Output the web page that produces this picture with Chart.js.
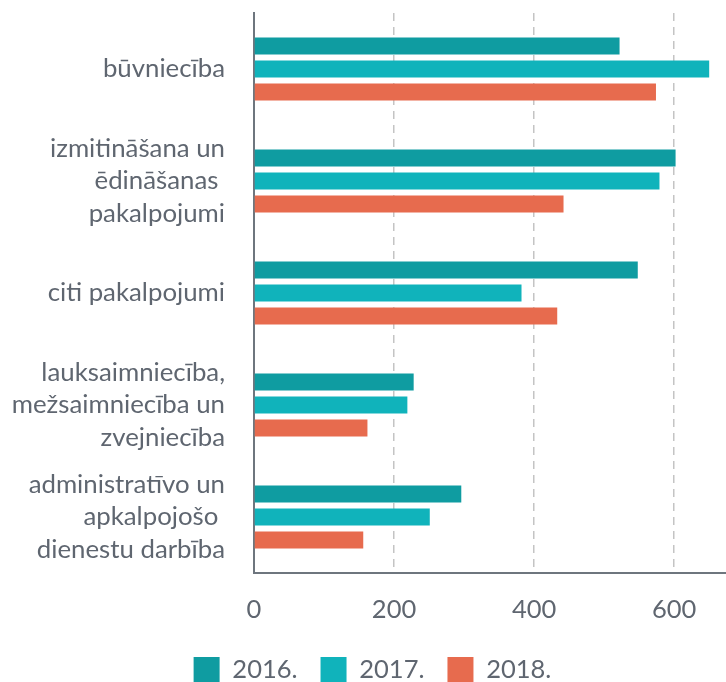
<!DOCTYPE html>
<html>
<head>
<meta charset="utf-8">
<script src="https://cdn.jsdelivr.net/npm/chart.js@4"></script>
<style>
  html, body { margin: 0; padding: 0; background: #fff; }
  #wrap { width: 726px; height: 682px; position: relative; }
</style>
</head>
<body>
<div id="wrap"><canvas id="myChart" width="726" height="682"></canvas></div>
<script>
// categories (multi-line labels as in the source)
const categories = [
  ['būvniecība'],
  ['izmitināšana un', 'ēdināšanas ', 'pakalpojumi'],
  ['citi pakalpojumi'],
  ['lauksaimniecība,', 'mežsaimniecība un', 'zvejniecība'],
  ['administratīvo un', 'apkalpojošo ', 'dienestu darbība']
]
const seriesNames = ['2016.', '2017.', '2018.']
const values2016 = [522, 602, 548, 228, 296]
const values2017 = [650, 579, 382, 219, 251]
const values2018 = [574, 442, 433, 162, 156]
const xTicks = [0, 200, 400, 600]

const colors = ['#0f9ca1', '#10b3bb', '#e76b4e']
const textColor = '#5f6670'
const font = 'Lato, "Noto Sans", sans-serif'

// the legend in the source is a bit right of centre
const legendShift = {
  id: 'legendShift',
  afterLayout: function (chart) {
    chart.legend.left += 9.5
    chart.legend.right += 9.5
  }
}

const ctx = document.getElementById('myChart').getContext('2d')
const chart = new Chart(ctx, {
  type: 'bar',
  data: {
    labels: categories,
    datasets: [values2016, values2017, values2018].map(function (vals, i) {
      return {
        label: seriesNames[i],
        data: vals,
        backgroundColor: colors[i],
        borderWidth: 0,
        categoryPercentage: 0.614,
        barPercentage: 0.74
      }
    })
  },
  plugins: [legendShift],
  options: {
    indexAxis: 'y',
    responsive: false,
    animation: false,
    // legend sits partly below the bottom edge in the source
    layout: { padding: { top: 13, left: 0, right: 0, bottom: -11 } },
    plugins: {
      tooltip: { enabled: false },
      legend: {
        position: 'bottom',
        labels: {
          boxWidth: 26,
          boxHeight: 26,
          padding: 23,
          color: textColor,
          font: { family: font, size: 25.5 }
        }
      }
    },
    scales: {
      x: {
        min: 0,
        max: 674,
        afterBuildTicks: function (scale) {
          scale.ticks = xTicks.map(function (v) { return { value: v } })
        },
        afterFit: function (scale) {
          scale.height = 61
          scale.paddingLeft = 0
          scale.paddingRight = 0
        },
        grid: {
          drawTicks: false,
          lineWidth: 1.5,
          color: function (c) { return c.tick && c.tick.value === 0 ? 'rgba(0,0,0,0)' : '#c4c4c4' }
        },
        border: { display: true, color: '#6e767e', width: 2, dash: [8, 6] },
        ticks: {
          padding: 21,
          color: textColor,
          font: { family: font, size: 25.5 }
        }
      },
      y: {
        afterFit: function (scale) {
          scale.width = 254
          scale.paddingTop = 0
          scale.paddingBottom = 0
        },
        grid: { display: false, drawTicks: false },
        border: { display: true, color: '#6e767e', width: 2 },
        ticks: {
          autoSkip: false,
          padding: 29,
          color: textColor,
          font: { family: font, size: 25.8, lineHeight: 1.25 }
        }
      }
    }
  }
})
</script>
</body>
</html>
